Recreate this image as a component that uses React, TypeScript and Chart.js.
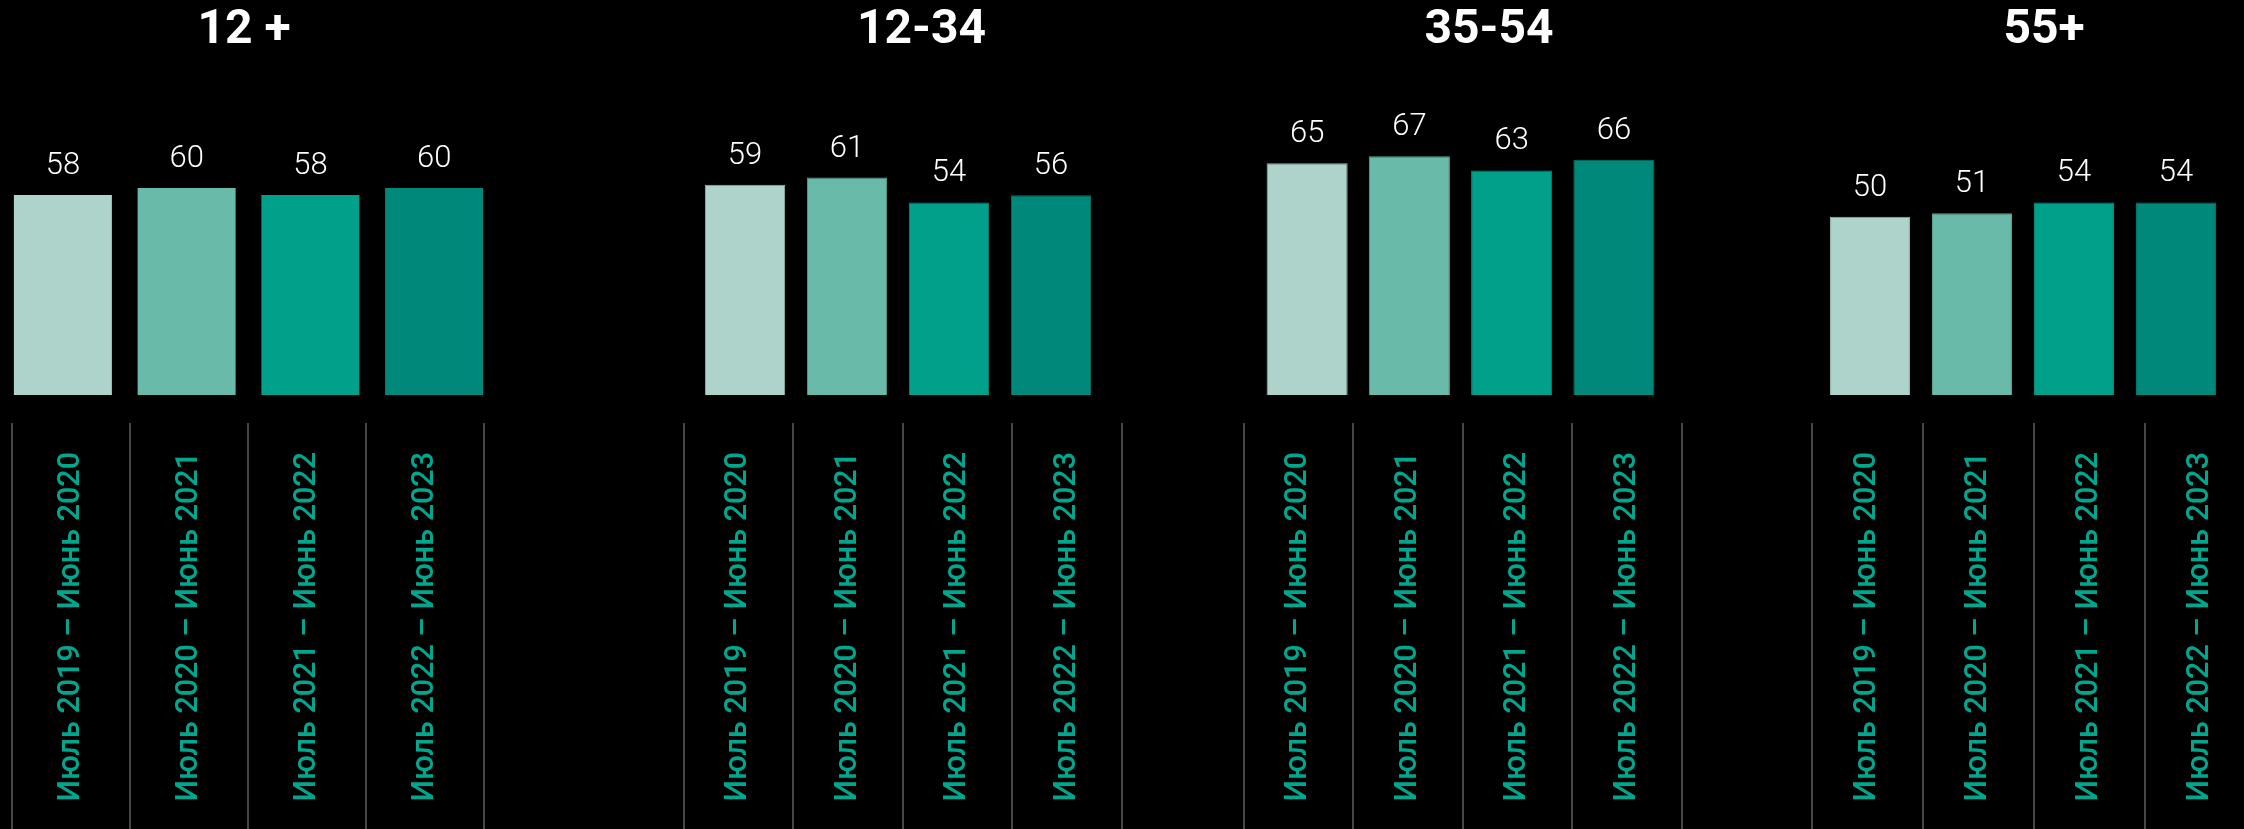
import React, { useEffect, useRef } from 'react';
import { Chart, registerables } from 'chart.js';

Chart.register(...registerables);

// ---- DATA ----
const categories = [
  'Июль 2019 – Июнь 2020',
  'Июль 2020 – Июнь 2021',
  'Июль 2021 – Июнь 2022',
  'Июль 2022 – Июнь 2023',
];
const groupTitles = ['12 +', '12-34', '35-54', '55+'];
const values12plus = [58, 60, 58, 60];
const values12to34 = [59, 61, 54, 56];
const values35to54 = [65, 67, 63, 66];
const values55plus = [50, 51, 54, 54];
const groupValues = [values12plus, values12to34, values35to54, values55plus];

// ---- STYLE ----
const barColors = ['#AED3CB', '#6ABAA9', '#00A08A', '#00887A'];
const barBorders = ['#93B9B0', '#58A695', '#008F7B', '#007667'];
const labelColor = '#00A78F';
const gridColor = '#464646';

const panels = [
  { barLeft: -8, barWidth: 504, axisPos: 'left', axisW: 9, catPct: 0.792, yMax: 85.5, stripLeft: 12, stripRight: 489, border: 0 },
  { barLeft: 694, barWidth: 455, axisPos: 'right', axisW: 47, catPct: 0.787, yMax: 82.75, stripLeft: 684, stripRight: 1131, border: 1 },
  { barLeft: 1256, barWidth: 466, axisPos: 'right', axisW: 57, catPct: 0.793, yMax: 82.75, stripLeft: 1244, stripRight: 1691, border: 1 },
  { barLeft: 1819, barWidth: 450, axisPos: 'right', axisW: 42, catPct: 0.784, yMax: 82.75, stripLeft: 1812, stripRight: 2264, border: 1 },
];

const BAR_H = 395;
const STRIP_TOP = 423;
const STRIP_H = 406;

const valueLabels = {
  id: 'valueLabels',
  afterDatasetsDraw(chart: any) {
    const ctx = chart.ctx;
    const meta = chart.getDatasetMeta(0);
    const data = chart.data.datasets[0].data;
    ctx.save();
    ctx.font = '300 31px Roboto, sans-serif';
    ctx.fillStyle = '#ffffff';
    ctx.textAlign = 'center';
    ctx.textBaseline = 'alphabetic';
    meta.data.forEach((el: any, i: number) => {
      ctx.fillText(String(data[i]), el.x, el.y - 21);
    });
    ctx.restore();
  },
};

function Panel({ index }: { index: number }) {
  const barRef = useRef<HTMLCanvasElement>(null);
  const stripRef = useRef<HTMLCanvasElement>(null);
  const p = panels[index];

  useEffect(() => {
    const barChart = new Chart(barRef.current as HTMLCanvasElement, {
      type: 'bar',
      data: {
        labels: categories,
        datasets: [
          {
            data: groupValues[index],
            backgroundColor: barColors,
            borderColor: barBorders,
            borderWidth: p.border,
            barPercentage: 1,
            categoryPercentage: p.catPct,
          },
        ],
      },
      options: {
        responsive: false,
        animation: false,
        devicePixelRatio: 1,
        events: [],
        layout: { padding: 0 },
        plugins: {
          legend: { display: false },
          tooltip: { enabled: false },
          title: {
            display: true,
            text: groupTitles[index],
            color: '#ffffff',
            font: { family: "'Liberation Sans Narrow', Roboto, sans-serif", size: 48, weight: 'bold', lineHeight: 1.2 },
            padding: { top: 2, bottom: 40.4 },
          },
        },
        scales: {
          x: { display: false, offset: true },
          y: {
            display: true,
            position: p.axisPos as any,
            min: 0,
            max: p.yMax,
            grid: { display: false },
            border: { display: false },
            ticks: { display: false },
            afterFit: (s: any) => {
              s.width = p.axisW;
            },
          },
        },
      } as any,
      plugins: [valueLabels],
    });

    const stripChart = new Chart(stripRef.current as HTMLCanvasElement, {
      type: 'bar',
      data: { labels: categories, datasets: [] },
      options: {
        responsive: false,
        animation: false,
        devicePixelRatio: 1,
        events: [],
        layout: { padding: { left: 2, right: 2, top: 0, bottom: 0 } },
        plugins: {
          legend: { display: false },
          tooltip: { enabled: false },
          title: { display: false },
        },
        scales: {
          x: {
            type: 'category',
            offset: true,
            position: { y: 1 },
            grid: {
              display: true,
              offset: true,
              drawOnChartArea: true,
              drawTicks: false,
              color: gridColor,
              lineWidth: 2,
            },
            border: { display: false },
            ticks: {
              autoSkip: false,
              minRotation: 90,
              maxRotation: 90,
              padding: 29,
              color: labelColor,
              font: { family: 'Roboto, sans-serif', size: 30.5, weight: '500' },
            },
          },
          y: { type: 'linear', display: false, min: 0, max: 1 },
        },
      } as any,
    });

    return () => {
      barChart.destroy();
      stripChart.destroy();
    };
  }, [index]);

  const stripW = p.stripRight - p.stripLeft + 4;
  return (
    <>
      <canvas
        ref={barRef}
        width={p.barWidth}
        height={BAR_H}
        style={{ position: 'absolute', left: p.barLeft, top: 0, width: p.barWidth, height: BAR_H, display: 'block' }}
      />
      <canvas
        ref={stripRef}
        width={stripW}
        height={STRIP_H}
        style={{ position: 'absolute', left: p.stripLeft - 2, top: STRIP_TOP, width: stripW, height: STRIP_H, display: 'block' }}
      />
    </>
  );
}

export default function App() {
  useEffect(() => {
    document.body.style.background = '#000000';
  }, []);
  return (
    <div
      style={{
        position: 'absolute',
        left: 0,
        top: 0,
        width: 2244,
        height: 829,
        background: '#000000',
        overflow: 'hidden',
      }}
    >
      {panels.map((_, i) => (
        <Panel key={i} index={i} />
      ))}
    </div>
  );
}
